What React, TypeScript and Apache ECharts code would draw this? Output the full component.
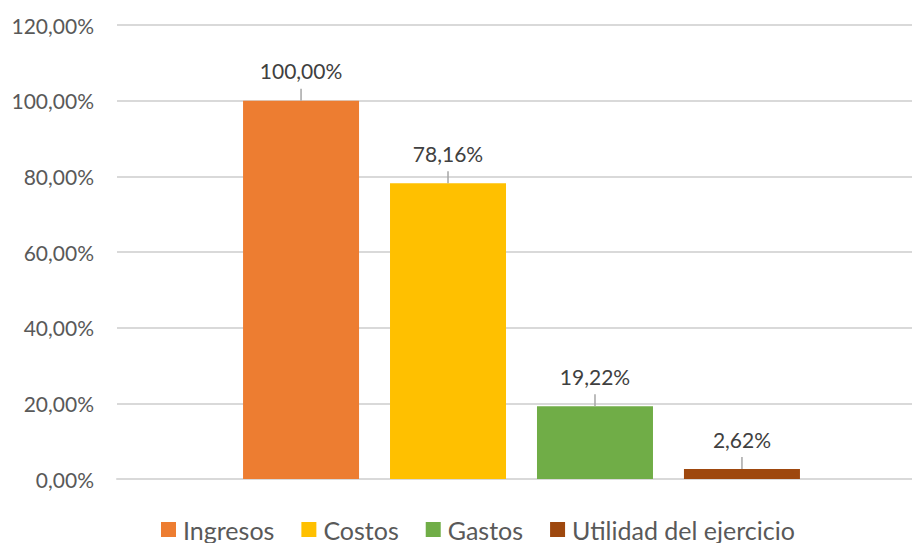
import React, { useEffect, useRef } from "react";
import * as echarts from "echarts";

const seriesNames = ["Ingresos", "Costos", "Gastos", "Utilidad del ejercicio"];
const seriesValues = [100.0, 78.16, 19.22, 2.62];
const seriesColors = ["#ED7D31", "#FFC000", "#70AD47", "#9E480E"];
const categories = [""];

const fmt = (v: number) => v.toFixed(2).replace(".", ",") + "%";

export default function App() {
  const ref = useRef<HTMLDivElement>(null);
  useEffect(() => {
    if (!ref.current) return;
    const chart = echarts.init(ref.current, undefined, { renderer: "svg" });
    const font = "Lato, 'Open Sans', sans-serif";
    chart.setOption({
      animation: false,
      backgroundColor: "#ffffff",
      grid: {
        left: 117,
        top: 25,
        width: 809,
        bottom: 64,
        containLabel: false,
        outerBoundsMode: "none",
      },
      legend: {
        bottom: -4,
        left: 156,
        itemWidth: 15,
        itemHeight: 15,
        itemGap: 27,
        icon: "rect",
        textStyle: { color: "#595959", fontSize: 25, fontFamily: font, padding: [0, 0, 0, 2] },
        data: seriesNames,
      },
      xAxis: {
        type: "category",
        data: categories,
        axisLine: { show: true, lineStyle: { color: "#d9d9d9", width: 2 } },
        axisTick: { show: false },
        axisLabel: { show: false },
      },
      yAxis: {
        type: "value",
        min: 0,
        max: 120,
        interval: 20,
        axisLine: { show: false },
        axisTick: { show: false },
        splitLine: { lineStyle: { color: "#d9d9d9", width: 2 } },
        axisLabel: {
          color: "#595959",
          fontSize: 21,
          fontFamily: font,
          margin: 23,
          formatter: (v: number) => fmt(v),
        },
      },
      series: seriesNames.map((name, i) => ({
        name,
        type: "bar",
        barWidth: 116,
        barGap: "26.7%",
        itemStyle: { color: seriesColors[i] },
        data: [seriesValues[i]],
        label: {
          show: true,
          position: "top",
          distance: 0,
          align: "center",
          formatter: (p: any) => "{v|" + fmt(p.value) + "}\n{l|}",
          rich: {
            v: { color: "#404040", fontSize: 21, fontFamily: font, lineHeight: 36, align: "center" },
            l: { width: 1.5, height: 12, lineHeight: 12, backgroundColor: "#a6a6a6", align: "center" },
          },
        },
      })),
    });
    return () => chart.dispose();
  }, []);
  return <div ref={ref} style={{ width: 912, height: 543, position: "absolute", left: 0, top: 0 }} />;
}
